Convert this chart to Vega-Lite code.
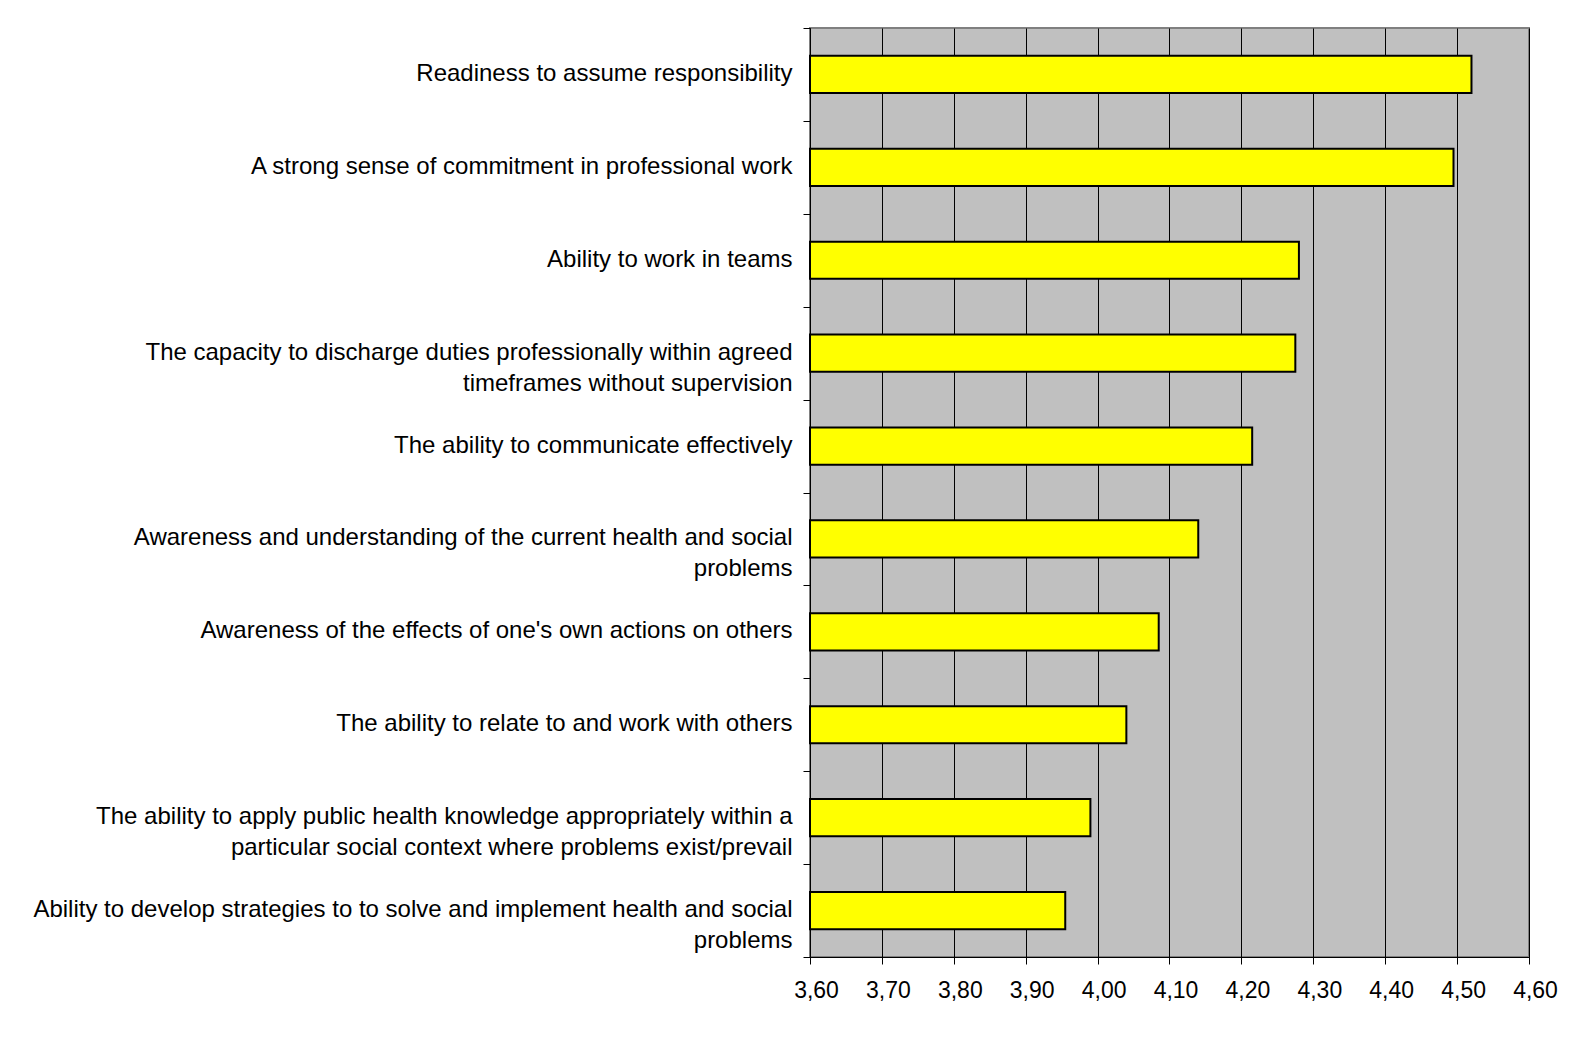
{
  "$schema": "https://vega.github.io/schema/vega-lite/v6.json",
  "autosize": "none",
  "width": 719,
  "height": 929,
  "padding": {"left": 810, "top": 28, "right": 54, "bottom": 80},
  "background": "white",
  "config": {
    "view": {"fill": "#C0C0C0", "stroke": "#808080", "strokeWidth": 2},
    "font": "Liberation Sans"
  },
  "data": {
    "values": [
      {"skill": "Readiness to assume responsibility", "score": 4.52},
      {"skill": "A strong sense of commitment in professional work", "score": 4.495},
      {"skill": "Ability to work in teams", "score": 4.28},
      {"skill": "The capacity to discharge duties professionally within agreed|timeframes without supervision", "score": 4.275},
      {"skill": "The ability to communicate effectively", "score": 4.215},
      {"skill": "Awareness and understanding of the current health and social|problems", "score": 4.14},
      {"skill": "Awareness of the effects of one's own actions on others", "score": 4.085},
      {"skill": "The ability to relate to and work with others", "score": 4.04},
      {"skill": "The ability to apply public health knowledge appropriately within a|particular social context where problems exist/prevail", "score": 3.99},
      {"skill": "Ability to develop strategies to to solve and implement health and social|problems", "score": 3.955}
    ]
  },
  "mark": {"type": "bar", "fill": "#FFFF00", "stroke": "#000000", "strokeWidth": 2, "height": {"band": 0.4}},
  "encoding": {
    "y": {
      "field": "skill",
      "type": "nominal",
      "sort": null,
      "scale": {"paddingInner": 0, "paddingOuter": 0},
      "axis": {
        "title": null,
        "labelExpr": "split(datum.label, '|')",
        "labelFontSize": 24,
        "labelColor": "black",
        "labelLimit": 0,
        "labelLineHeight": 31,
        "labelBaseline": "middle",
        "labelAlign": "right",
        "labelOffset": -1,
        "labelPadding": 11,
        "tickSize": 7,
        "tickColor": "black",
        "tickBand": "extent",
        "domainColor": "black",
        "grid": false
      }
    },
    "x": {
      "field": "score",
      "type": "quantitative",
      "scale": {"domain": [3.6, 4.6], "nice": false, "zero": false},
      "axis": {
        "title": null,
        "values": [3.6, 3.7, 3.8, 3.9, 4.0, 4.1, 4.2, 4.3, 4.4, 4.5, 4.6],
        "grid": true,
        "gridColor": "black",
        "gridWidth": 1,
        "labelExpr": "replace(format(datum.value, '.2f'), '.', ',')",
        "labelFontSize": 23,
        "labelColor": "black",
        "labelFlush": false,
        "labelOffset": 6,
        "labelPadding": 15,
        "tickSize": 7,
        "tickColor": "black",
        "domainColor": "black"
      }
    },
    "x2": {"datum": 3.6}
  }
}
